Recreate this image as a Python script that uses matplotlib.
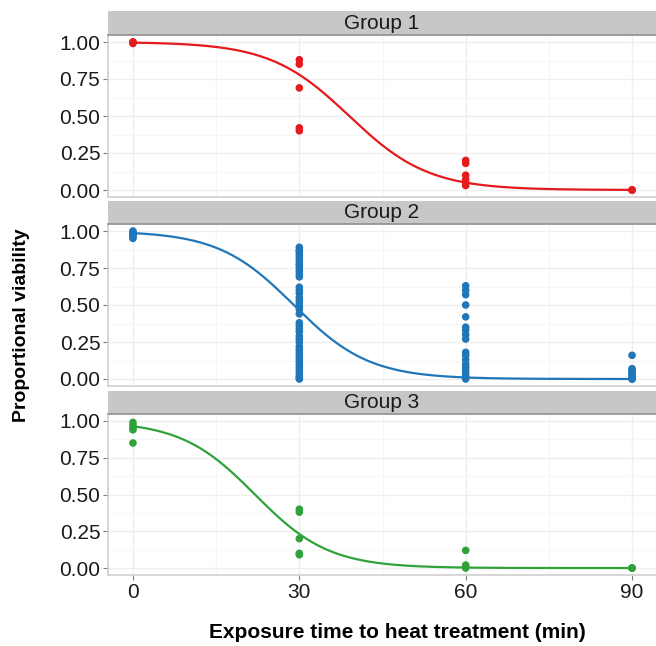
import matplotlib.pyplot as plt
import numpy as np

plt.rcParams['font.family'] = ['Liberation Sans', 'DejaVu Sans']

# viability readings per exposure time (min)
g1_time = [0, 0, 0, 30, 30, 30, 30, 30, 60, 60, 60, 60, 60, 60, 90, 90, 90]
g1_viab = [1.00, 1.00, 0.99, 0.88, 0.85, 0.69, 0.42, 0.40,
           0.20, 0.18, 0.10, 0.07, 0.05, 0.03, 0.00, 0.00, 0.00]

g2_time = ([0] * 6 + [30] * 41 + [60] * 19 + [90] * 10)
g2_viab = ([1.00, 0.99, 0.98, 0.97, 0.96, 0.95] +
           [0.89, 0.87, 0.86, 0.84, 0.82, 0.80, 0.78, 0.77, 0.75, 0.73,
            0.71, 0.69, 0.62, 0.60, 0.58, 0.55, 0.53, 0.51, 0.49, 0.47,
            0.44, 0.38, 0.36, 0.34, 0.32, 0.29, 0.27, 0.25, 0.22, 0.20,
            0.18, 0.16, 0.14, 0.12, 0.10, 0.08, 0.06, 0.04, 0.02, 0.01,
            0.00] +
           [0.63, 0.60, 0.57, 0.50, 0.42, 0.35, 0.33, 0.30, 0.27, 0.18,
            0.16, 0.13, 0.10, 0.08, 0.06, 0.04, 0.02, 0.01, 0.00] +
           [0.16, 0.07, 0.06, 0.05, 0.04, 0.03, 0.02, 0.01, 0.00, 0.00])

g3_time = [0, 0, 0, 0, 0, 30, 30, 30, 30, 30, 60, 60, 60, 60, 90, 90, 90]
g3_viab = [0.99, 0.97, 0.95, 0.94, 0.85, 0.40, 0.38, 0.20, 0.10, 0.09,
           0.12, 0.02, 0.01, 0.00, 0.00, 0.00, 0.00]

# fitted logistic curves: time at 50% viability and slope
fit_mid = [39.0, 29.0, 22.0]
fit_slope = [0.14, 0.147, 0.15]

group_names = ['Group 1', 'Group 2', 'Group 3']
colors = ['#E41A1C', '#1F76B9', '#2FA23A']
x_ticks = [0, 30, 60, 90]
y_ticks = [0.00, 0.25, 0.50, 0.75, 1.00]

W, H = 656, 646
fig = plt.figure(figsize=(W / 100, H / 100), dpi=100)

left_px, right_px = 108, 657
panels = [(11, 34.6, 197.4), (201, 223.6, 386.4), (391, 413.6, 575.4)]
data = [(g1_time, g1_viab), (g2_time, g2_viab), (g3_time, g3_viab)]

xs = np.linspace(0, 90, 300)
for i, ((s_top, p_top, p_bot), (t, v)) in enumerate(zip(panels, data)):
    ax = fig.add_axes([left_px / W, 1 - p_bot / H,
                       (right_px - left_px) / W, (p_bot - p_top) / H])
    ax.set_xlim(-4.5, 94.5)
    ax.set_ylim(-0.05, 1.05)
    ax.set_xticks(x_ticks)
    ax.set_yticks(y_ticks)
    ax.set_xticks([15, 45, 75], minor=True)
    ax.set_yticks([0.125, 0.375, 0.625, 0.875], minor=True)
    ax.grid(True, which='major', color='#EFEFEF', lw=1.0)
    ax.grid(True, which='minor', color='#F6F6F6', lw=0.8)
    ax.set_axisbelow(True)
    for side in ['top', 'right']:
        ax.spines[side].set_visible(False)
    for side in ['left', 'bottom']:
        ax.spines[side].set_color('#CFCFCF')
        ax.spines[side].set_linewidth(1.2)
    ax.tick_params(axis='both', which='major', colors='#7F7F7F', length=3.5,
                   width=0.8, labelsize=15, labelcolor='#1A1A1A', pad=2)
    ax.tick_params(axis='both', which='minor', length=0)
    ax.set_yticklabels([f'{y:.2f}' for y in y_ticks])
    if i < 2:
        ax.tick_params(axis='x', which='major', length=0, labelbottom=False)

    curve = 1 / (1 + np.exp(fit_slope[i] * (xs - fit_mid[i])))
    ax.plot(xs, curve, color=colors[i], lw=1.6, zorder=3)
    ax.scatter(t, v, s=30, color=colors[i], edgecolors='none', zorder=4,
               clip_on=False)

    # facet strip
    sax = fig.add_axes([left_px / W, 1 - p_top / H,
                        (right_px - left_px) / W, (p_top - s_top) / H])
    sax.set_facecolor('#C7C7C7')
    sax.set_xticks([])
    sax.set_yticks([])
    for side in ['left', 'right', 'top']:
        sax.spines[side].set_visible(False)
    sax.spines['bottom'].set_color('#8F8F8F')
    sax.spines['bottom'].set_linewidth(1.2)
    sax.text((381.5 - left_px) / (right_px - left_px), 0.47, group_names[i],
             transform=sax.transAxes, ha='center', va='center',
             fontsize=15, color='#1A1A1A')

fig.text(397 / W, 1 - 633 / H, 'Exposure time to heat treatment (min)',
         ha='center', va='center', fontsize=15, fontweight='bold')
fig.text(22 / W, 1 - 325 / H, 'Proportional viability', rotation=90,
         ha='center', va='center', fontsize=14, fontweight='bold')

fig.savefig('out.png', dpi=100)
